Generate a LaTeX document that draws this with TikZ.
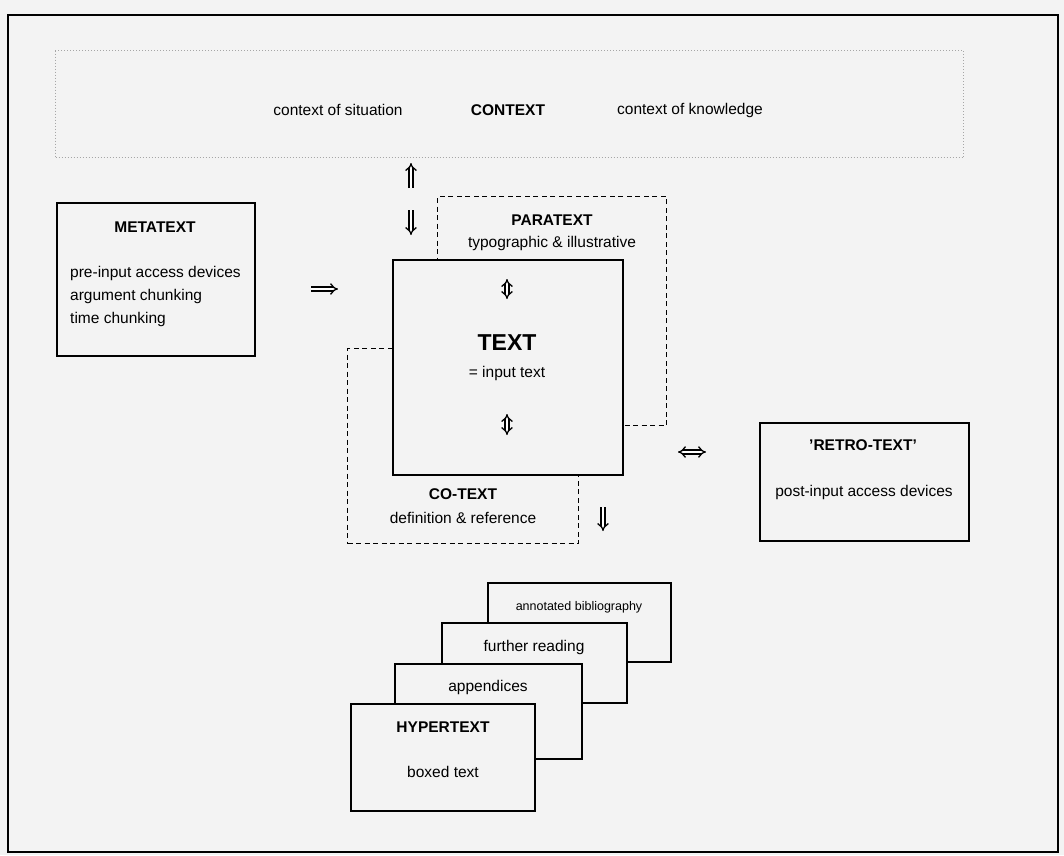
\documentclass[tikz,border=0pt]{standalone}
\usepackage{fontspec}
\setmainfont{Liberation Sans}
\usetikzlibrary{arrows.meta}
\definecolor{paper}{RGB}{243,243,243}
\begin{document}
\begin{tikzpicture}[x=1pt,y=-1pt,
  box/.style={draw, line width=1.5pt, fill=paper, inner sep=0pt, anchor=north west},
  dbox/.style={draw, line width=1.4pt, dash pattern=on 5pt off 3.5pt, inner sep=0pt, anchor=north west},
  ctxbox/.style={draw=gray!70, line width=1pt, dotted, inner sep=0pt, anchor=north west},
  lbl/.style={inner sep=0pt, font=\fontsize{15.5}{18}\selectfont},
  hd/.style={inner sep=0pt, font=\fontsize{15.5}{18}\selectfont\bfseries},
  dbl/.style={double, double distance=2.6pt, line width=1.3pt, -{Implies}},
  dblb/.style={double, double distance=2.6pt, line width=1.3pt, {Implies}-{Implies}}]
\fill[paper] (0,0) rectangle (1064,855);
\useasboundingbox (0,0) rectangle (1064,855);
% outer frame
\node[draw, line width=1.6pt, inner sep=0pt, anchor=north west, minimum width=1050pt, minimum height=837pt] (frame) at (7,14) {};
% context
\node[ctxbox, minimum width=908pt, minimum height=107pt] (ctxb) at (55,50) {};
\node[lbl] (sit) at (338,110) {context of situation};
\node[hd] (ctx) at (508,110) {CONTEXT};
\node[lbl] (know) at (690,110) {context of knowledge};
% metatext
\node[box, minimum width=198pt, minimum height=153pt] (meta) at (56,202) {};
\node[hd] (metat) at (155,227) {METATEXT};
\node[lbl, anchor=west] (m1) at (70,273) {pre-input access devices};
\node[lbl, anchor=west] (m2) at (70,296) {argument chunking};
\node[lbl, anchor=west] (m3) at (70,319) {time chunking};
% paratext and cotext
\node[dbox, minimum width=229pt, minimum height=229pt] (para) at (437,196) {};
\node[hd] (parat) at (552,220) {PARATEXT};
\node[lbl] (parad) at (552,243) {typographic \& illustrative};
\node[dbox, minimum width=231pt, minimum height=195pt] (cot) at (347,348) {};
\node[hd] (cott) at (463,494) {CO-TEXT};
\node[lbl] (cotd) at (463,518) {definition \& reference};
% text
\node[box, minimum width=230pt, minimum height=215pt] (txt) at (392,259) {};
\node[inner sep=0pt, font=\fontsize{23}{26}\selectfont\bfseries] (txtt) at (507,343) {TEXT};
\node[lbl] (txtd) at (507,373) {= input text};
% retro-text
\node[box, minimum width=209pt, minimum height=118pt] (retro) at (759,422) {};
\node[hd] (retrot) at (863,445) {'RETRO-TEXT'};
\node[lbl] (retrod) at (864,492) {post-input access devices};
% stack
\node[box, minimum width=183pt, minimum height=79pt] (bib) at (487,582) {};
\node[inner sep=0pt, font=\fontsize{12.5}{15}\selectfont] (bibt) at (579,607) {annotated bibliography};
\node[box, minimum width=185pt, minimum height=80pt] (fur) at (441,622) {};
\node[lbl] (furt) at (534,647) {further reading};
\node[box, minimum width=187pt, minimum height=95pt] (app) at (394,663) {};
\node[lbl] (appt) at (488,687) {appendices};
\node[box, minimum width=184pt, minimum height=107pt] (hyp) at (350,703) {};
\node[hd] (hypt) at (443,727) {HYPERTEXT};
\node[lbl] (hypd) at (443,772) {boxed text};
% arrows
\coordinate (a1s) at (411,188); \coordinate (a1e) at (411,163);
\coordinate (a2s) at (411,210); \coordinate (a2e) at (411,235);
\coordinate (a3s) at (311,289); \coordinate (a3e) at (338,289);
\coordinate (a4s) at (507,279); \coordinate (a4e) at (507,299);
\coordinate (a5s) at (507,414); \coordinate (a5e) at (507,435);
\coordinate (a6s) at (603,507); \coordinate (a6e) at (603,531);
\coordinate (a7s) at (678,452); \coordinate (a7e) at (706,452);
\draw[dbl] (a1s) -- (a1e);
\draw[dbl] (a2s) -- (a2e);
\draw[dbl] (a3s) -- (a3e);
\draw[dblb] (a4s) -- (a4e);
\draw[dblb] (a5s) -- (a5e);
\draw[dbl] (a6s) -- (a6e);
\draw[dblb] (a7s) -- (a7e);
\end{tikzpicture}
\end{document}
